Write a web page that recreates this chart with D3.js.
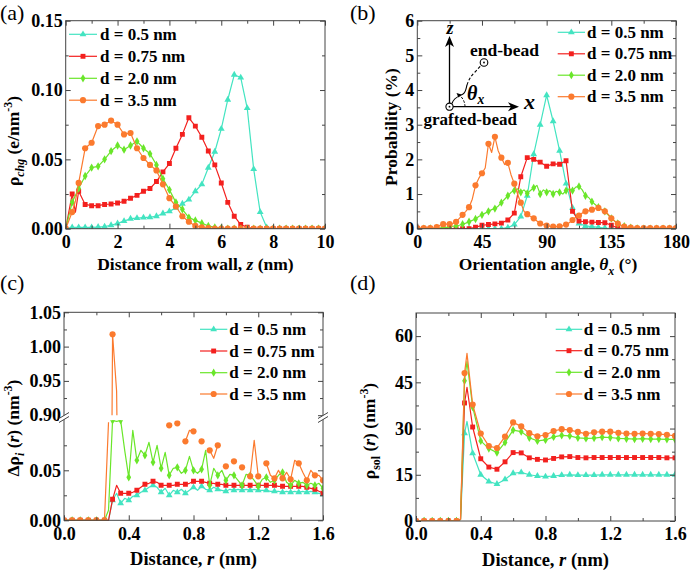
<!DOCTYPE html>
<html>
<head>
<meta charset="utf-8">
<script src="https://cdn.jsdelivr.net/npm/d3@7/dist/d3.min.js"></script>
<style>
html,body{margin:0;padding:0;background:#fff;}
svg{display:block;}
text{white-space:pre;}
</style>
</head>
<body>
<svg id="chart" width="691" height="572"></svg>
<script>
// ================= DATA =================
const seriesLabels = ["d = 0.5 nm", "d = 0.75 nm", "d = 2.0 nm", "d = 3.5 nm"];
const seriesKeys = ["c", "r", "g", "o"];

// ---- (a) charge density vs distance from wall ----
const zA = [0,0.25,0.375,0.5,0.75,1,1.25,1.5,1.75,2,2.25,2.5,2.75,3,3.25,3.5,3.75,4,4.25,4.5,4.75,5,5.25,5.5,5.75,6,6.25,6.5,6.75,7,7.25,7.5,7.75,8,8.25,8.5,8.75,9,9.25,9.5,9.75,10];
const aD05  = [0,0.001,0.001,0.001,0.001,0.001,0.0012,0.0015,0.0025,0.0038,0.0055,0.0072,0.0076,0.008,0.0083,0.009,0.011,0.0125,0.015,0.018,0.021,0.027,0.032,0.044,0.0555,0.072,0.093,0.111,0.109,0.087,0.043,0.012,0.001,0,0,0,0,0,0,0,0,0];
const aD075 = [0,0.025,0.012,0.027,0.0175,0.0166,0.0166,0.0175,0.0178,0.0185,0.0198,0.022,0.024,0.027,0.029,0.034,0.041,0.047,0.058,0.068,0.080,0.074,0.066,0.056,0.046,0.033,0.019,0.009,0.003,0.001,0,0,0,0,0,0,0,0,0,0,0,0];
const aD20  = [0,0.019,0.024,0.029,0.038,0.044,0.045,0.050,0.056,0.060,0.057,0.060,0.063,0.058,0.054,0.046,0.036,0.028,0.019,0.014,0.008,0.006,0.004,0.002,0.001,0.0005,0,0,0,0,0,0,0,0,0,0,0,0,0,0,0,0];
const aD35  = [0,0.012,0.020,0.033,0.058,0.062,0.074,0.075,0.078,0.075,0.068,0.069,0.058,0.051,0.046,0.042,0.032,0.022,0.016,0.009,0.005,0.002,0.001,0.0005,0,0,0,0,0,0,0,0,0,0,0,0,0,0,0,0,0,0];

// ---- (b) orientation angle distribution ----
const thetaCoarse = [0,4.5,9,13.5,18,22.5,27,31.5,36,40.5,45,49.5,54,58.5,63,67.5,72,76.5,81,85.5,90,94.5,99,103.5,108,112.5,117,121.5,126,130.5,135,139.5,144,148.5,153,157.5,162,166.5,171,175.5,180];
const thetaFine = [0,2.25,4.5,6.75,9,11.25,13.5,15.75,18,20.25,22.5,24.75,27,29.25,31.5,33.75,36,38.25,40.5,42.75,45,47.25,49.5,51.75,54,56.25,58.5,60.75,63,65.25,67.5,69.75,72,74.25,76.5,78.75,81,83.25,85.5,87.75,90,92.25,94.5,96.75,99,101.25,103.5,105.75,108,110.25,112.5,114.75,117,119.25,121.5,123.75,126,128.25,130.5,132.75,135,137.25,139.5,141.75,144,146.25,148.5,150.75,153,155.25,157.5,159.75,162,164.25,166.5,168.75,171,173.25,175.5,177.75,180];
const bD05  = [0,0,0,0,0,0,0,0,0,0,0,0,0,0, 0.03,0.12,0.35,0.95,2.15,3.0,3.85,3.1,2.25,1.3,0.6,0.15,0.08,0.06,0.04,0.02,0.01, 0,0,0,0,0,0,0,0,0,0];
const bD075 = [0,0,0,0,0,0,0,0,0, 0.04,0.1,0.12,0.14,0.16,0.25,0.45,1.5,2.05,2.0,1.92,1.8,1.87,1.86,1.96,0.5,0.22,0.2,0.19,0.18,0.17,0.1,0.02, 0,0,0,0,0,0,0,0,0];
const bD20  = [0,0,0,0.01,0.01,0.01,0.02,0.02,0.03,
               0.04,0.05,0.07,0.08,0.1,0.13,0.16,0.2,0.24,
               0.28,0.35,0.4,0.45,0.5,0.55,0.58,0.65,0.75,
               0.85,0.95,1.05,1.1,1.15,1.05,1.12,1.02,1.1,
               1.18,1.25,1.0,1.12,1.05,1.1,1.0,1.08,1.05,
               1.0,1.1,1.15,1.1,1.2,1.22,1.12,0.95,0.9,
               0.78,0.7,0.62,0.55,0.5,0.4,0.3,0.22,0.15,
               0.1,0.07,0.05,0.03,0.02,0.01,0,0,0,
               0,0,0,0,0,0,0,0,0];
const bD35  = [0.02,0.02,0.02,0.02,0.02,0.02,0.05,0.1,0.13,
               0.13,0.13,0.15,0.2,0.3,0.4,0.5,0.62,0.85,
               1.25,1.45,1.6,1.75,2.45,2.2,2.65,2.25,2.05,
               1.85,1.9,1.55,1.3,1.0,0.75,0.5,0.42,0.35,
               0.3,0.22,0.15,0.12,0.09,0.07,0.06,0.06,0.07,
               0.09,0.12,0.17,0.25,0.33,0.38,0.45,0.5,0.52,
               0.55,0.58,0.6,0.55,0.5,0.42,0.3,0.22,0.15,
               0.1,0.06,0.04,0.03,0.02,0.02,0.02,0.02,0.02,
               0.02,0.02,0.02,0.02,0.02,0.02,0.02,0.02,0.02];

// ---- (c) ion density increment vs distance r (broken y axis) ----
const rC = [0,0.025,0.05,0.075,0.1,0.125,0.15,0.175,0.2,0.225,0.25,0.275,0.3,0.325,0.35,0.375,0.4,0.425,0.45,0.475,0.5,0.525,0.55,0.575,0.6,0.625,0.65,0.675,0.7,0.725,0.75,0.775,0.8,0.825,0.85,0.875,0.9,0.925,0.95,0.975,1,1.025,1.05,1.075,1.1,1.125,1.15,1.175,1.2,1.225,1.25,1.275,1.3,1.325,1.35,1.375,1.4,1.425,1.45,1.475,1.5,1.525,1.55,1.575,1.6];
const cD05  = [0,0,0,0,0,0,0,0,0,0,0, 0,0.02,0.027,0.017,0.022,0.02,0.024,0.025,0.028,0.03,0.033,0.035,0.033,0.028,0.032,0.025,0.03,0.028,0.031,0.027,0.03,0.033,0.03,0.034,0.031,0.03,0.033,0.031,0.03,0.029,0.031,0.03,0.031,0.03,0.031,0.03,0.031,0.03,0.03,0.03,0.029,0.029,0.029,0.028,0.029,0.028,0.029,0.028,0.029,0.028,0.029,0.028,0.027,0.026];
const cD075 = [0,0,0,0,0,0,0,0,0,0,0, 0,0.021,0.035,0.027,0.027,0.027,0.028,0.03,0.033,0.036,0.037,0.039,0.038,0.035,0.035,0.035,0.035,0.036,0.036,0.036,0.037,0.039,0.039,0.039,0.038,0.037,0.037,0.036,0.036,0.035,0.035,0.035,0.035,0.035,0.035,0.035,0.035,0.035,0.035,0.035,0.035,0.035,0.034,0.034,0.034,0.034,0.034,0.034,0.034,0.033,0.032,0.031,0.029,0.027];
const cD20  = [0,0,0,0,0,0,0,0,0,0,0, 0.01,0.1,0.099,0.1,0.07,0.043,0.09,0.06,0.07,0.065,0.078,0.058,0.075,0.052,0.068,0.045,0.052,0.053,0.047,0.05,0.064,0.05,0.047,0.051,0.07,0.035,0.052,0.045,0.05,0.04,0.046,0.045,0.04,0.035,0.046,0.045,0.04,0.034,0.041,0.043,0.038,0.04,0.045,0.048,0.038,0.035,0.04,0.037,0.038,0.035,0.037,0.035,0.037,0.032];
const cD35  = [0,0,0,0,0,0,0,0,0,0,0, 0.098,1.018,0.935,0.45,0.35,0.32,0.3,0.28,0.27,0.26,0.26,0.25,0.26,0.3,0.25,0.095,0.2,0.097,0.18,0.079,0.09,0.089,0.16,0.079,0.2,0.07,0.062,0.075,0.16,0.054,0.14,0.059,0.12,0.053,0.13,0.044,0.08,0.044,0.11,0.057,0.045,0.042,0.05,0.042,0.048,0.041,0.06,0.057,0.048,0.04,0.05,0.045,0.045,0.04];

// ---- (d) solvent density vs distance r ----
const rD = [0,0.05,0.1,0.15,0.2,0.25,0.275,0.3,0.315,0.35,0.4,0.45,0.5,0.55,0.6,0.65,0.7,0.75,0.8,0.85,0.9,0.95,1,1.05,1.1,1.15,1.2,1.25,1.3,1.35,1.4,1.45,1.5,1.55,1.6];
const dD05  = [0,0,0,0,0,0,0.5,28.5,32.3,22,15,12.8,12,13.5,15.5,15.8,15,14.6,14.4,14.6,14.9,15,14.9,14.9,14.9,15,15,15,15,15,15,15,15,15,15];
const dD075 = [0,0,0,0,0,0,0.5,38.3,43.4,30.5,20.2,17.5,16.8,19.2,22.2,22.1,20.5,20,19.8,20.3,20.8,20.9,20.6,20.5,20.6,20.6,20.6,20.6,20.6,20.6,20.6,20.6,20.6,20.5,20.5];
const dD20  = [0,0,0,0,0,0,0.5,45.5,51.7,37,26,23.5,22.2,25.5,29.5,29,27,26,26.3,27.3,27.8,27.6,27,26.8,26.9,27.2,27.1,26.8,26.7,26.6,26.7,26.6,26.6,26.5,26.5];
const dD35  = [0,0,0,0,0,0,0.5,48,54.4,37.8,28.4,24.3,23.7,27.4,32,30.7,28.5,27.5,27.9,29.2,29.8,29.5,28.9,28.3,28.8,29,29,28.6,28.4,28.3,28.4,28.3,28.2,28,27.6];

// tick values
const aXMajor = [0,2,4,6,8,10], aXMinor = [1,3,5,7,9];
const aYMajor = [0,0.05,0.10,0.15], aYMinor = [0.025,0.075,0.125];
const bXMajor = [0,45,90,135,180], bXMinor = [22.5,67.5,112.5,157.5];
const bYMajor = [0,1,2,3,4,5,6], bYMinor = [0.5,1.5,2.5,3.5,4.5,5.5];
const rXMajor = [0,0.4,0.8,1.2,1.6], rXMinor = [0.2,0.6,1.0,1.4];
const cYLowMajor = [0,0.05], cYLowMinor = [0.025,0.075];
const cYUpMajor = [0.90,0.95,1.00,1.05], cYUpMinor = [0.925,0.975,1.025];
const dYMajor = [0,15,30,45,60], dYMinor = [7.5,22.5,37.5,52.5];

// ================= STYLE =================
const FONT = '"Liberation Serif","Times New Roman",Times,serif';
const FR = '#444';
const COL = {c:'#43e4c1', r:'#f3201e', g:'#6ae62a', o:'#fb7a2e'};
const SYM = {c:d3.symbolTriangle, r:d3.symbolSquare, g:d3.symbolDiamond, o:d3.symbolCircle};
const SIZE = {c:20, r:24, g:20, o:30};

const svg = d3.select('#chart');
svg.append('rect').attr('width',691).attr('height',572).attr('fill','#fff');
const defs = svg.append('defs');
let clipN = 0;
function clip(x0,y0,x1,y1){
  const id = 'clip'+(clipN++);
  defs.append('clipPath').attr('id',id).append('rect')
    .attr('x',x0).attr('y',y0).attr('width',x1-x0).attr('height',y1-y0);
  return 'url(#'+id+')';
}

// panels (pixel boxes)
const PA = {x0:65.7, x1:325, y0:20.7, y1:228.7};
const PB = {x0:417.3, x1:676, y0:20.7, y1:228.7};
const PC = {x0:64, x1:323, y0:312.3, y1:520.3};
const PD = {x0:416, x1:675, y0:313, y1:521};

function series(g, xs, ys, x, y, key, markerOk, clipUrl, definedFn){
  const pts = xs.map((v,i)=>[v, ys[i], i]);
  const def = definedFn || (()=>true);
  g.append('path')
    .attr('d', d3.line().defined(def).x(d=>x(d[0])).y(d=>y(d[1]))(pts))
    .attr('fill','none').attr('stroke',COL[key]).attr('stroke-width',1.2)
    .attr('stroke-linejoin','round').attr('clip-path',clipUrl);
  g.append('g').attr('clip-path',clipUrl)
    .selectAll('path').data(pts.filter(d=>markerOk(d) && def(d))).join('path')
    .attr('transform', d=>'translate('+x(d[0])+','+y(d[1])+')')
    .attr('d', d3.symbol(SYM[key], SIZE[key]))
    .attr('fill', COL[key]);
}

function axisPart(axis, tx, ty, vals, size, pad, fmt){
  const a = svg.append('g').attr('transform','translate('+tx+','+ty+')')
    .call(axis.tickValues(vals).tickSize(-size).tickPadding(pad).tickFormat(fmt || (()=>'')));
  a.select('.domain').remove();
  a.attr('font-family',FONT).attr('font-size',18).attr('font-weight','bold');
  a.selectAll('line').attr('stroke',FR);
  a.selectAll('text').attr('fill','#000');
  return a;
}

function frame(P){
  svg.append('rect').attr('x',P.x0).attr('y',P.y0).attr('width',P.x1-P.x0).attr('height',P.y1-P.y0)
    .attr('fill','none').attr('stroke',FR).attr('stroke-width',1);
}

function xAxes(x, P, maj, mn, fmt){
  axisPart(d3.axisBottom(x), 0, P.y1, maj, 5, 6.5, fmt);
  axisPart(d3.axisBottom(x), 0, P.y1, mn, 3, 6.5);
  axisPart(d3.axisTop(x), 0, P.y0, maj, 5, 3);
  axisPart(d3.axisTop(x), 0, P.y0, mn, 3, 3);
}
function yAxes(y, P, maj, mn, fmt){
  axisPart(d3.axisLeft(y), P.x0, 0, maj, 5, 3, fmt);
  axisPart(d3.axisLeft(y), P.x0, 0, mn, 3, 3);
  axisPart(d3.axisRight(y), P.x1, 0, maj, 5, 3);
  axisPart(d3.axisRight(y), P.x1, 0, mn, 3, 3);
}

function rich(textSel, parts, size, subK){
  let shift = 0;
  const sk = subK || 0.3;
  parts.forEach(p=>{
    const target = p.sub ? size*sk : (p.sup ? -size*0.4 : 0);
    const ts = textSel.append('tspan').text(p.t).attr('dy', target-shift);
    shift = target;
    if (p.sub || p.sup) ts.attr('font-size', size*0.68);
    if (p.it) ts.attr('font-style','italic');
  });
}
function title(x, y, rot, parts, size){
  const t = svg.append('text')
    .attr('transform','translate('+x+','+y+')'+(rot?' rotate(-90)':''))
    .attr('text-anchor','middle').attr('font-family',FONT).attr('font-size',size)
    .attr('font-weight','bold').attr('fill','#000');
  rich(t, parts, size);
}

function legend(x1, x2, xt, ys){
  seriesKeys.forEach((k,i)=>{
    const g = svg.append('g');
    g.append('line').attr('x1',x1).attr('x2',x2).attr('y1',ys[i]).attr('y2',ys[i])
      .attr('stroke',COL[k]).attr('stroke-width',1.2);
    g.append('path').attr('transform','translate('+((x1+x2)/2)+','+ys[i]+')')
      .attr('d', d3.symbol(SYM[k], SIZE[k])).attr('fill',COL[k]);
    g.append('text').attr('x',xt).attr('y',ys[i]+5.5).attr('font-family',FONT)
      .attr('font-size',17).attr('font-weight','bold').attr('fill','#000').text(seriesLabels[i]);
  });
}

function panelLabel(x, y, s){
  svg.append('text').attr('x',x).attr('y',y).attr('font-family',FONT).attr('font-size',22)
    .attr('fill','#000').text(s);
}

const quarter = d => Math.abs(d[0]*4 - Math.round(d[0]*4)) < 1e-6;
const evenIdx = d => d[2] % 2 === 0;
const all = () => true;
const mult05 = d => Math.abs(d[0]/0.05 - Math.round(d[0]/0.05)) < 1e-6;

// ================= PANEL (a) =================
{
  const x = d3.scaleLinear().domain([0,10]).range([PA.x0, PA.x1]);
  const y = d3.scaleLinear().domain([0,0.15]).range([PA.y1, PA.y0]);
  const cl = clip(PA.x0, PA.y0, PA.x1, PA.y1);
  const g = svg.append('g');
  const data = [aD05, aD075, aD20, aD35];
  seriesKeys.forEach((k,i)=>series(g, zA, data[i], x, y, k, quarter, cl));
  frame(PA);
  xAxes(x, PA, aXMajor, aXMinor, d3.format('d'));
  yAxes(y, PA, aYMajor, aYMinor, d3.format('.2f'));
  legend(69, 97, 100, [34.3, 56.3, 78.3, 100.2]);
  title(195.4, 269.5, false, [{t:'Distance from wall, '},{t:'z',it:true},{t:' (nm)'}], 17.5);
  title(19, 141, true, [{t:'ρ'},{t:'chg',sub:true,it:true},{t:' (e/nm'},{t:'-3',sup:true},{t:')'}], 17.5);
  panelLabel(0, 20, '(a)');
}

// ================= PANEL (b) =================
{
  const x = d3.scaleLinear().domain([0,180]).range([PB.x0, PB.x1]);
  const y = d3.scaleLinear().domain([0,6]).range([PB.y1, PB.y0]);
  const cl = clip(PB.x0, PB.y0, PB.x1, PB.y1);
  const g = svg.append('g');
  series(g, thetaCoarse, bD05, x, y, 'c', all, cl);
  series(g, thetaCoarse, bD075, x, y, 'r', all, cl);
  series(g, thetaFine, bD20, x, y, 'g', evenIdx, cl);
  series(g, thetaFine, bD35, x, y, 'o', evenIdx, cl);
  frame(PB);
  xAxes(x, PB, bXMajor, bXMinor, d3.format('d'));
  yAxes(y, PB, bYMajor, bYMinor, d3.format('d'));
  legend(557.7, 585, 587, [32.3, 53.8, 75.2, 96.7]);
  title(548, 269.5, false, [{t:'Orientation angle, '},{t:'θ',it:true},{t:'x',sub:true,it:true},{t:' (°)'}], 17.5);
  title(397, 127, true, [{t:'Probability (%)'}], 17.5);
  panelLabel(350, 20, '(b)');

  // inset schematic
  const ins = svg.append('g').attr('stroke','#000').attr('fill','none');
  const ox = 449.5, oy = 106.7;
  ins.append('line').attr('x1',ox).attr('y1',oy-3).attr('x2',ox).attr('y2',43).attr('stroke-width',1.3);
  ins.append('path').attr('d','M'+ox+',36 L'+(ox-4.5)+',47 L'+ox+',44 L'+(ox+4.5)+',47 Z').attr('fill','#000').attr('stroke','none');
  ins.append('line').attr('x1',ox+3).attr('y1',oy).attr('x2',511).attr('y2',oy).attr('stroke-width',1.3);
  ins.append('path').attr('d','M519,'+oy+' L508,'+(oy-4.5)+' L511,'+oy+' L508,'+(oy+4.5)+' Z').attr('fill','#000').attr('stroke','none');
  ins.append('circle').attr('cx',ox).attr('cy',oy).attr('r',3.6).attr('stroke-width',1.1).attr('fill','#fff');
  ins.append('circle').attr('cx',ox).attr('cy',oy).attr('r',0.9).attr('fill','#000').attr('stroke','none');
  // chain
  ins.append('path').attr('d','M452,103.5 C454,97 459,96.5 463,94 C466,92 466,88 467,85').attr('stroke-width',1.1);
  ins.append('path').attr('d','M467,85 C469,79 471,76 475,72 L481,65.5').attr('stroke-width',1.1).attr('stroke-dasharray','3,2');
  ins.append('circle').attr('cx',484).attr('cy',62.5).attr('r',3.8).attr('stroke-width',1.1).attr('fill','#fff');
  ins.append('circle').attr('cx',484).attr('cy',62.5).attr('r',0.9).attr('fill','#000').attr('stroke','none');
  // angle arc
  ins.append('path').attr('d','M465,106.7 A15,15 0 0,0 458.5,94.5').attr('stroke-width',1).attr('stroke-dasharray','2.5,1.5');
  ins.append('path').attr('d','M456.5,93 L461.5,94.5 L458.5,97.5 Z').attr('fill','#000').attr('stroke','none');
  // texts
  svg.append('text').attr('x',450).attr('y',34).attr('text-anchor','middle')
    .attr('font-family',FONT).attr('font-size',18).attr('font-weight','bold').attr('font-style','italic').text('z');
  svg.append('text').attr('x',524).attr('y',109).attr('font-family',FONT).attr('font-size',22)
    .attr('font-weight','bold').attr('font-style','italic').text('x');
  const th = svg.append('text').attr('x',467).attr('y',100).attr('font-family',FONT).attr('font-size',20)
    .attr('font-weight','bold');
  rich(th, [{t:'θ',it:true},{t:'x',sub:true,it:true}], 20, 0.2);
  svg.append('text').attr('x',470).attr('y',56).attr('font-family',FONT).attr('font-size',17.5)
    .attr('font-weight','bold').text('end-bead');
  svg.append('text').attr('x',423.5).attr('y',125).attr('font-family',FONT).attr('font-size',17)
    .attr('font-weight','bold').text('grafted-bead');
}

// ================= PANEL (c) =================
{
  const x = d3.scaleLinear().domain([0,1.6]).range([PC.x0, PC.x1]);
  const yLow = d3.scaleLinear().domain([0,0.1]).range([PC.y1, 420.3]);
  const yUp = d3.scaleLinear().domain([0.9,1.05]).range([415.2, PC.y0]);
  const clLow = clip(PC.x0, 420.3, PC.x1, PC.y1 + 0.5);
  const clUp = clip(PC.x0, PC.y0, PC.x1, 415.2);
  const g = svg.append('g');
  const data = [cD05, cD075, cD20, cD35];
  const inLow = d => d[1] <= 0.1001;
  seriesKeys.forEach((k,i)=>{
    series(g, rC, data[i], x, yLow, k, evenIdx, clLow, inLow);
    series(g, rC, data[i], x, yUp, k, evenIdx, clUp);
  });
  frame(PC);
  xAxes(x, PC, rXMajor, rXMinor, d3.format('.1f'));
  yAxes(yLow, PC, cYLowMajor, cYLowMinor, d3.format('.2f'));
  yAxes(yUp, PC, cYUpMajor, cYUpMinor, d3.format('.2f'));
  // axis break marks
  [PC.x0, PC.x1].forEach(bx=>{
    svg.append('path').attr('d','M'+(bx-5)+',418.5 L'+(bx-5)+',422.5 L'+(bx+5)+',416.5 L'+(bx+5)+',412.5 Z')
      .attr('fill','#fff').attr('stroke','none');
    svg.append('line').attr('x1',bx-5).attr('y1',418.5).attr('x2',bx+5).attr('y2',412.5).attr('stroke',FR).attr('stroke-width',1);
    svg.append('line').attr('x1',bx-5).attr('y1',422.5).attr('x2',bx+5).attr('y2',416.5).attr('stroke',FR).attr('stroke-width',1);
  });
  legend(200, 227.3, 229.3, [329.3, 351, 372.7, 394]);
  title(193.5, 565, false, [{t:'Distance, '},{t:'r',it:true},{t:' (nm)'}], 18.5);
  title(19, 428, true, [{t:'Δρ'},{t:'i',sub:true,it:true},{t:' ('},{t:'r',it:true},{t:') (nm'},{t:'-3',sup:true},{t:')'}], 17.5);
  panelLabel(0, 290, '(c)');
}

// ================= PANEL (d) =================
{
  const x = d3.scaleLinear().domain([0,1.6]).range([PD.x0, PD.x1]);
  const y = d3.scaleLinear().domain([0,67.5]).range([PD.y1, PD.y0]);
  const cl = clip(PD.x0, PD.y0, PD.x1, PD.y1);
  const g = svg.append('g');
  const data = [dD05, dD075, dD20, dD35];
  seriesKeys.forEach((k,i)=>series(g, rD, data[i], x, y, k, mult05, cl));
  frame(PD);
  xAxes(x, PD, rXMajor, rXMinor, d3.format('.1f'));
  yAxes(y, PD, dYMajor, dYMinor, d3.format('d'));
  legend(555.7, 582.3, 583.7, [329.3, 350.7, 372.3, 394]);
  title(545.5, 566, false, [{t:'Distance, '},{t:'r',it:true},{t:' (nm)'}], 18.5);
  title(375, 431, true, [{t:'ρ'},{t:'sol',sub:true},{t:' ('},{t:'r',it:true},{t:') (nm'},{t:'-3',sup:true},{t:')'}], 17.5);
  panelLabel(350, 290, '(d)');
}
</script>
</body>
</html>
